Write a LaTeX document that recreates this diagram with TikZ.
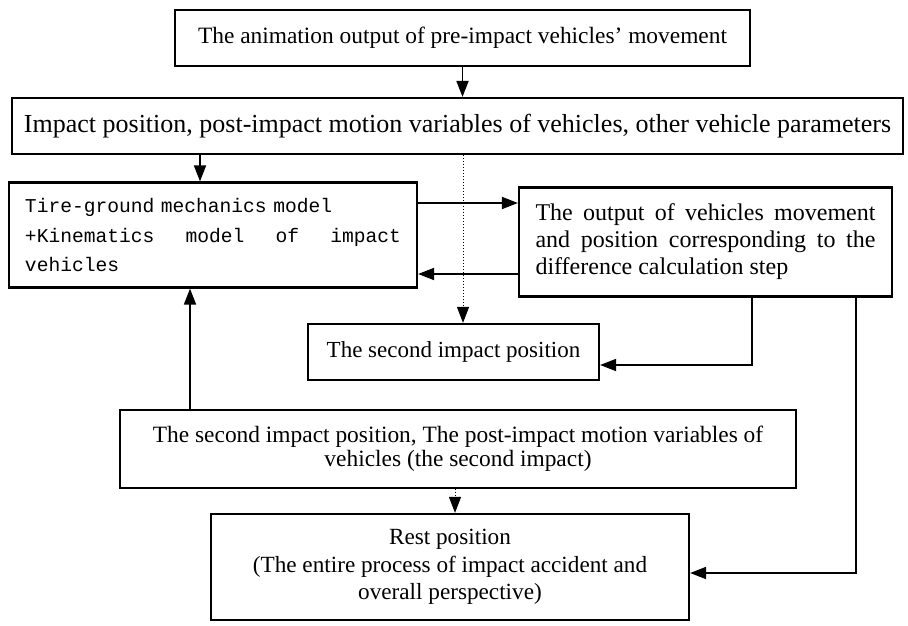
\documentclass[tikz,border=0pt]{standalone}
\usepackage{fontspec}
\setmainfont{Liberation Serif}
\setmonofont{Liberation Mono}
\usepackage{tikz}
\usetikzlibrary{arrows.meta, positioning, calc}
\tikzset{
  box/.style={rectangle, draw=black, line width=1.1pt, inner sep=2pt,
    align=center, font=\fontsize{11.7}{13.5}\selectfont},
  arrow/.style={-{Triangle[length=8pt,width=6pt]}, line width=0.9pt, color=black},
  dotarrow/.style={-{Triangle[length=8pt,width=6pt]}, densely dotted, line width=0.5pt, color=black}
}

\begin{document}
\begin{tikzpicture}[x=0.5pt, y=-0.5pt]
  \useasboundingbox (0,0) rectangle (908,625);

  % Pre-impact animation
  \node[box, minimum width=287.5pt, minimum height=28pt] (anim) at (462.5,38)
    {The animation output of pre-impact vehicles' movement};
  % Impact parameters
  \node[box, minimum width=445.5pt, minimum height=28pt, font=\fontsize{13}{14}\selectfont] (param) at (457.5,126)
    {Impact position, post-impact motion variables of vehicles, other vehicle parameters};

  % Mechanics model
  \node[box, minimum width=204pt, minimum height=52.5pt, text width=188pt, align=left,
    font=\ttfamily\fontsize{9.8}{14.7}\selectfont] (model) at (213,235)
    {Tire-ground mechanics model\\+Kinematics\hfill model\hfill of\hfill impact\\vehicles};
  % Step output
  \node[box, minimum width=186.5pt, minimum height=54.5pt, text width=170pt, align=justify,
    font=\fontsize{12}{13.5}\selectfont] (step) at (705.5,242)
    {The output of vehicles movement\linebreak and position corresponding to the\linebreak difference calculation step};

  % Second impact
  \node[box, minimum width=145.5pt, minimum height=28pt, font=\fontsize{11.5}{13.5}\selectfont] (second) at (453.5,352)
    {The second impact position};
  \node[box, minimum width=338pt, minimum height=39pt, font=\fontsize{11.7}{12}\selectfont] (svars) at (458,449)
    {The second impact position, The post-impact motion variables of\\vehicles (the second impact)};

  % Rest position
  \node[box, minimum width=239pt, minimum height=53pt, font=\fontsize{11.6}{13.7}\selectfont] (rest) at (450,567)
    {Rest position\\(The entire process of impact accident and\\overall perspective)};

  % Connectors
  \draw[arrow] (anim.south) -- (anim.south |- param.north);
  \draw[arrow] ([xshift=-6.5pt]model.north |- param.south) -- ([xshift=-6.5pt]model.north);
  \draw[dotarrow] ([xshift=4.75pt]second.north |- param.south) -- ([xshift=4.75pt]second.north);
  \draw[arrow] ([yshift=16pt]model.east) -- ([yshift=16pt]model.east -| step.west);
  \draw[arrow] ([yshift=-16pt]step.west) -- ([yshift=-16pt]step.west -| model.east);
  \draw[arrow] ([xshift=23.25pt]step.south) |- ([yshift=-6.5pt]second.east);
  \draw[arrow] ([xshift=75.25pt]step.south) |- ([yshift=-3pt]rest.east);
  \draw[arrow] ([xshift=-11.5pt]model.south |- svars.north) -- ([xshift=-11.5pt]model.south);
  \draw[dotarrow] ([xshift=2.5pt]rest.north |- svars.south) -- ([xshift=2.5pt]rest.north);
\end{tikzpicture}
\end{document}
